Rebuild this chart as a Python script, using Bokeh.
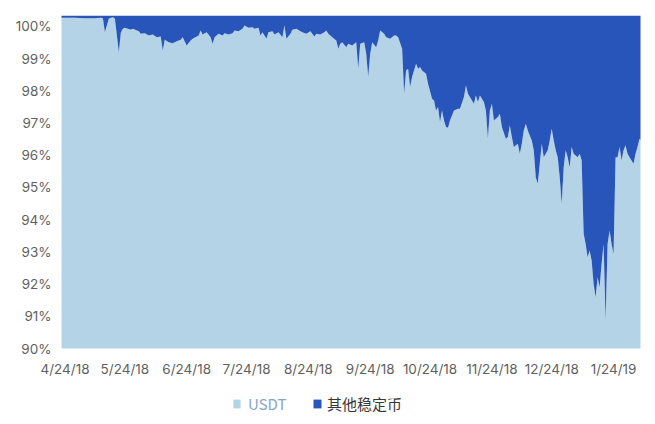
from bokeh.plotting import figure
from bokeh.layouts import column
from bokeh.models import (Range1d, LinearAxis, FixedTicker, PrintfTickFormatter,
                          Legend, LegendItem, ColumnDataSource)
from bokeh.embed import file_html
from bokeh.resources import INLINE
import pandas as pd

# ---------------- data ----------------
start_date = "2018-04-24"
# days since start_date
days = [-2, 5, 10, 15, 18, 19, 20, 22, 24, 25, 27, 28, 29, 30, 33, 34, 37, 38, 40, 42,
        44, 46, 48, 49, 50, 52, 54, 56, 58, 59, 61, 63, 64, 67, 68, 69, 71, 73, 74, 75,
        77, 79, 80, 82, 84, 85, 87, 89, 90, 92, 94, 95, 97, 98, 99, 101, 102, 104, 105, 107,
        109, 110, 111, 113, 114, 116, 118, 119, 121, 123, 125, 126, 128, 130, 131, 132, 134, 136, 137, 138,
        139, 141, 142, 144, 146, 147, 148, 150, 151, 152, 153, 154, 156, 157, 158, 160, 161, 163, 165, 166,
        167, 169, 170, 171, 172, 173, 174, 176, 177, 178, 179, 181, 182, 184, 185, 186, 187, 188, 189, 190,
        191, 192, 193, 195, 197, 198, 200, 201, 202, 204, 205, 206, 207, 208, 210, 211, 212, 213, 214, 215,
        217, 218, 219, 221, 222, 223, 224, 225, 227, 228, 229, 230, 231, 232, 234, 235, 236, 237, 238, 239,
        240, 242, 243, 244, 245, 246, 247, 248, 249, 250, 251, 252, 253, 254, 255, 257, 258, 259, 260, 261,
        262, 263, 264, 265, 266, 267, 268, 269, 270, 271, 272, 273, 274, 275, 276, 277, 278, 279, 280, 281,
        282, 283, 285, 286, 287, 288, 289]
# USDT share of stablecoins, %
usdt = [99.93, 99.93, 99.92, 99.92, 99.93, 99.92, 99.50, 99.91, 99.95, 99.91, 98.90, 99.49, 99.60, 99.63, 99.57, 99.60, 99.53, 99.45, 99.47, 99.40,
        99.43, 99.35, 99.37, 98.95, 99.27, 99.20, 99.17, 99.23, 99.27, 99.35, 99.10, 99.25, 99.30, 99.40, 99.55, 99.43, 99.50, 99.35, 99.15, 99.35,
        99.45, 99.40, 99.47, 99.43, 99.47, 99.55, 99.53, 99.60, 99.70, 99.63, 99.65, 99.60, 99.63, 99.40, 99.50, 99.30, 99.50, 99.53, 99.43, 99.50,
        99.35, 99.70, 99.30, 99.45, 99.57, 99.60, 99.53, 99.50, 99.45, 99.53, 99.37, 99.45, 99.43, 99.50, 99.55, 99.45, 99.35, 99.25, 99.00, 99.15,
        99.20, 99.05, 99.15, 99.10, 99.20, 98.40, 99.15, 99.20, 98.85, 98.15, 98.85, 99.20, 99.05, 99.25, 99.55, 99.45, 99.35, 99.30, 99.40, 99.40,
        99.35, 99.00, 97.65, 98.35, 98.40, 97.85, 98.15, 98.55, 98.40, 98.45, 98.35, 98.25, 97.95, 97.50, 97.45, 97.15, 97.25, 96.80, 97.15, 96.85,
        96.65, 96.63, 96.85, 97.15, 97.20, 97.20, 97.55, 97.90, 97.65, 97.45, 97.35, 97.60, 97.40, 97.60, 97.40, 97.15, 96.31, 97.15, 97.35, 96.85,
        96.95, 97.05, 96.65, 96.30, 96.35, 96.70, 96.35, 96.05, 96.15, 95.85, 96.15, 96.55, 96.75, 96.55, 96.25, 95.95, 95.14, 94.95, 95.55, 96.15,
        95.74, 95.95, 96.25, 96.60, 96.25, 95.95, 95.74, 95.14, 94.35, 95.44, 95.95, 95.74, 95.44, 96.05, 95.85, 95.74, 95.85, 95.65, 93.45, 93.14,
        92.74, 92.94, 92.64, 91.94, 91.54, 92.14, 91.84, 92.54, 93.14, 90.84, 93.14, 93.54, 93.14, 92.84, 95.74, 95.74, 96.05, 95.65, 95.95, 96.10,
        95.85, 95.74, 95.55, 95.85, 96.05, 96.30, 96.25]
# other stablecoins make up the rest of 100 %
other = [round(100 - u, 2) for u in usdt]

series_names = ["USDT", "其他稳定币"]
tick_dates = ["2018-04-24", "2018-05-24", "2018-06-24", "2018-07-24", "2018-08-24",
              "2018-09-24", "2018-10-24", "2018-11-24", "2018-12-24", "2019-01-24"]
tick_labels = ["4/24/18", "5/24/18", "6/24/18", "7/24/18", "8/24/18",
               "9/24/18", "10/24/18", "11/24/18", "12/24/18", "1/24/19"]
y_ticks = [90, 91, 92, 93, 94, 95, 96, 97, 98, 99, 100]

# ---------------- styling ----------------
colors = ["#b4d3e7", "#2855b9"]
legend_text_colors = ["#86a6c6", "#383838"]
label_font = "Inter"
label_color = "#5f5f5f"

dates = pd.to_datetime(start_date) + pd.to_timedelta(days, unit="D")
src = ColumnDataSource(dict(date=dates, usdt=usdt, other=other))

x_start = pd.Timestamp("2018-04-22 06:00")
x_end = pd.Timestamp("2019-02-06 12:00")

p = figure(width=650, height=392, x_axis_type="datetime",
           x_range=Range1d(x_start, x_end), y_range=Range1d(90, 100),
           y_axis_location=None, output_backend="svg", toolbar_location=None,
           min_border_left=61, min_border_right=10, min_border_top=15,
           min_border_bottom=44)
p.outline_line_color = None
p.xgrid.visible = False
p.ygrid.visible = False
p.background_fill_color = "white"
p.border_fill_color = "white"

rs = p.varea_stack(["usdt", "other"], x="date", color=colors, source=src)

# percentage axis (labels placed as in the reference image)
p.extra_y_ranges = {"pct": Range1d(90, 100.34)}
yax = LinearAxis(y_range_name="pct", ticker=FixedTicker(ticks=y_ticks),
                 formatter=PrintfTickFormatter(format="%d%%"))
p.add_layout(yax, "left")

tick_ms = [pd.Timestamp(d).value / 1e6 for d in tick_dates]
p.xaxis.ticker = FixedTicker(ticks=tick_ms)
p.xaxis.major_label_overrides = {t: l for t, l in zip(tick_ms, tick_labels)}

for ax in (p.xaxis[0], yax):
    ax.axis_line_color = None
    ax.major_tick_line_color = None
    ax.minor_tick_line_color = None
    ax.major_tick_out = 0
    ax.major_tick_in = 0
    ax.minor_tick_out = 0
    ax.minor_tick_in = 0
    ax.major_label_text_font = label_font
    ax.major_label_text_font_size = "13.5px"
    ax.major_label_text_color = label_color
p.xaxis.major_label_standoff = 12
yax.major_label_standoff = 10

# ---------------- legend strip below the chart ----------------
lg = figure(width=650, height=30, x_range=p.x_range, y_range=Range1d(200, 201),
            x_axis_location=None, y_axis_location=None,
            output_backend="svg", toolbar_location=None,
            min_border_left=0, min_border_right=0, min_border_top=0, min_border_bottom=0)
lg.outline_line_color = None
lg.xgrid.visible = False
lg.ygrid.visible = False
# same series, drawn in a strip whose y-range lies outside the data: only the keys show
keys = lg.varea_stack(["usdt", "other"], x="date", color=colors, source=src)

for i, (loc, gw, stand) in enumerate([((171, 8), 9, 7), ((251, 8), 10, 5)]):
    leg = Legend(items=[LegendItem(label=series_names[i], renderers=[keys[i]])],
                 location=loc, glyph_width=gw, glyph_height=11, label_standoff=stand,
                 padding=0, margin=0, border_line_color=None, background_fill_alpha=0,
                 label_text_color=legend_text_colors[i], label_text_font="Noto Sans CJK SC",
                 label_text_font_size="15px")
    lg.add_layout(leg)

layout = column(p, lg, spacing=0)
open("out.html", "w").write(file_html(layout, INLINE))
